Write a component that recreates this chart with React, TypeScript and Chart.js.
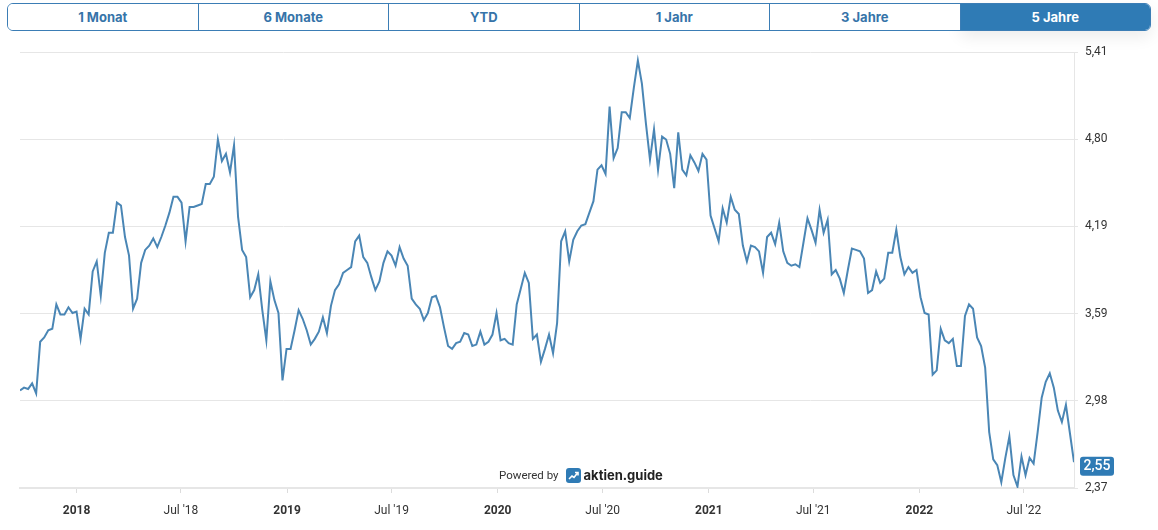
import React, { useEffect, useRef } from "react";
import { Chart, registerables } from "chart.js";
Chart.register(...registerables);

// Weekly closing prices, first week starts 2017-09-25
const START = { y: 2017, m: 8, d: 25 };
const prices2017 = [3.05, 3.07, 3.06, 3.10, 3.03, 3.39, 3.42, 3.47, 3.48, 3.65, 3.58, 3.58, 3.63, 3.59];
const prices2018 = [
  3.60, 3.41, 3.62, 3.58, 3.88, 3.95, 3.71, 4.01, 4.15, 4.15, 4.36, 4.34, 4.12, 3.99, 3.62, 3.69,
  3.94, 4.03, 4.06, 4.11, 4.05, 4.12, 4.20, 4.29, 4.40, 4.40, 4.36, 4.09, 4.33, 4.33, 4.34, 4.35,
  4.49, 4.49, 4.54, 4.80, 4.65, 4.70, 4.57, 4.76, 4.26, 4.03, 3.98, 3.70, 3.75, 3.86, 3.61, 3.40,
  3.81, 3.68, 3.59, 3.12, 3.34,
];
const prices2019 = [
  3.34, 3.47, 3.61, 3.55, 3.47, 3.37, 3.41, 3.46, 3.56, 3.45, 3.64, 3.75, 3.79, 3.87, 3.89, 3.91,
  4.09, 4.13, 3.98, 3.94, 3.84, 3.75, 3.81, 3.94, 4.02, 3.99, 3.92, 4.05, 3.97, 3.92, 3.69, 3.65,
  3.62, 3.54, 3.59, 3.70, 3.71, 3.63, 3.49, 3.36, 3.34, 3.38, 3.39, 3.45, 3.44, 3.36, 3.37, 3.46,
  3.37, 3.39, 3.44, 3.59,
];
const prices2020 = [
  3.40, 3.41, 3.38, 3.37, 3.65, 3.76, 3.87, 3.80, 3.41, 3.44, 3.25, 3.34, 3.44, 3.31, 3.52, 4.09,
  4.16, 3.95, 4.10, 4.16, 4.20, 4.21, 4.29, 4.37, 4.59, 4.62, 4.56, 5.03, 4.67, 4.74, 4.99, 4.99,
  4.95, 5.16, 5.35, 5.19, 4.91, 4.66, 4.87, 4.59, 4.82, 4.80, 4.70, 4.46, 4.85, 4.59, 4.55, 4.69,
  4.64, 4.58, 4.70, 4.66,
];
const prices2021 = [
  4.27, 4.18, 4.09, 4.32, 4.22, 4.40, 4.31, 4.28, 4.06, 3.95, 4.06, 4.05, 4.02, 3.87, 4.12, 4.15,
  4.07, 4.22, 4.02, 3.94, 3.92, 3.93, 3.91, 4.08, 4.25, 4.17, 4.08, 4.31, 4.15, 4.24, 3.86, 3.89,
  3.83, 3.73, 3.89, 4.04, 4.03, 4.02, 3.97, 3.73, 3.75, 3.88, 3.80, 3.83, 4.01, 4.01, 4.17, 3.98,
  3.86, 3.91, 3.87, 3.89,
];
const prices2022 = [
  3.70, 3.59, 3.58, 3.16, 3.19, 3.48, 3.40, 3.38, 3.41, 3.22, 3.22, 3.57, 3.65, 3.62, 3.42, 3.36,
  3.21, 2.76, 2.57, 2.53, 2.41, 2.58, 2.73, 2.46, 2.38, 2.59, 2.46, 2.58, 2.54, 2.76, 3.00, 3.11,
  3.17, 3.07, 2.91, 2.83, 2.95, 2.75, 2.55,
];

const RANGES = ["1 Monat", "6 Monate", "YTD", "1 Jahr", "3 Jahre", "5 Jahre"];
const ACTIVE_RANGE = "5 Jahre";
const Y_TICKS = [2.37, 2.978, 3.586, 4.194, 4.802, 5.41];
const X_TICK_YEARS = [2018, 2019, 2020, 2021, 2022];
const LAST_LABEL = "2,55";

const BLUE = "#2f7bb5";

export default function App() {
  const ref = useRef<HTMLCanvasElement>(null);

  useEffect(() => {
    document.body.style.margin = "0";
    const prices = [...prices2017, ...prices2018, ...prices2019, ...prices2020, ...prices2021, ...prices2022];
    const t0 = Date.UTC(START.y, START.m, START.d);
    const WEEK = 7 * 86400000;
    const points = prices.map((v, i) => ({ x: t0 + i * WEEK, y: v }));
    const xMin = points[0].x;
    const xMax = points[points.length - 1].x;
    const lastVal = prices[prices.length - 1];

    const xTicks: { value: number; major: boolean }[] = [];
    X_TICK_YEARS.forEach((yr) => {
      xTicks.push({ value: Date.UTC(yr, 0, 1), major: true });
      xTicks.push({ value: Date.UTC(yr, 6, 1), major: false });
    });

    const lastLabelPlugin = {
      id: "lastLabel",
      afterDraw(chart: any) {
        const ctx = chart.ctx;
        const y = chart.scales.y.getPixelForValue(lastVal);
        const x0 = chart.chartArea.right + 6;
        const w = 34, h = 19;
        const top = y - 5.5;
        ctx.save();
        ctx.fillStyle = BLUE;
        ctx.beginPath();
        ctx.roundRect(x0, top, w, h, 3);
        ctx.fill();
        ctx.fillStyle = "#ffffff";
        ctx.font = "500 14px Roboto";
        ctx.textAlign = "center";
        ctx.textBaseline = "middle";
        ctx.fillText(LAST_LABEL, x0 + w / 2, top + h / 2 + 0.5);
        ctx.restore();
      },
    };

    const chart = new Chart(ref.current!, {
      type: "line",
      data: {
        datasets: [
          {
            data: points,
            borderColor: "#4a86b5",
            borderWidth: 2,
            pointRadius: 0,
            tension: 0,
            fill: false,
          },
        ],
      },
      options: {
        animation: false,
        responsive: false,
        maintainAspectRatio: false,
        layout: { padding: { top: 52, left: 20, right: 0, bottom: 0 } },
        plugins: { legend: { display: false }, tooltip: { enabled: false } },
        scales: {
          x: {
            type: "linear",
            min: xMin,
            max: xMax,
            afterBuildTicks: (s: any) => {
              s.ticks = xTicks.map((t) => ({ ...t }));
            },
            afterFit: (s: any) => {
              s.height = 42;
            },
            grid: { drawOnChartArea: false, drawTicks: true, tickLength: 5, color: "#dcdcdc" },
            border: { color: "#e6e6e6", width: 2 },
            ticks: {
              autoSkip: false,
              maxRotation: 0,
              padding: 11,
              color: "#333333",
              font: (c: any) => ({
                family: "Roboto",
                size: 12,
                weight: c.tick && c.tick.major ? "bold" : "normal",
              }),
              callback: (v: any) => {
                const d = new Date(v);
                if (d.getUTCMonth() === 0) return String(d.getUTCFullYear());
                return "Jul '" + String(d.getUTCFullYear()).slice(2);
              },
            },
          },
          y: {
            position: "right",
            min: 2.37,
            max: 5.41,
            afterBuildTicks: (s: any) => {
              s.ticks = Y_TICKS.map((v) => ({ value: v }));
            },
            afterFit: (s: any) => {
              s.width = 84;
            },
            grid: { color: "#e6e6e6", tickLength: 4 },
            border: { color: "#e6e6e6" },
            ticks: {
              padding: 7,
              color: "#333333",
              font: { family: "Roboto", size: 12 },
              callback: (v: any) => Number(v).toFixed(2).replace(".", ","),
            },
          },
        },
      },
      plugins: [lastLabelPlugin],
    } as any);

    return () => chart.destroy();
  }, []);

  return (
    <div style={{ position: "relative", width: 1158, height: 530, background: "#fff", overflow: "hidden" }}>
      <canvas ref={ref} width={1158} height={530} style={{ position: "absolute", left: 0, top: 0, display: "block" }} />
      <div
        style={{
          position: "absolute",
          left: 960,
          top: 3,
          width: 191,
          height: 28,
          borderRadius: 6,
          boxShadow: "0 6px 16px rgba(0,0,0,0.08)",
        }}
      />
      <div
        style={{
          position: "absolute",
          left: 7,
          top: 3,
          width: 1144,
          height: 28,
          display: "flex",
          border: "1px solid #3b7db5",
          borderRadius: 6,
          boxSizing: "border-box",
          overflow: "hidden",
          background: "#fff",
        }}
      >
        {RANGES.map((r, i) => {
          const active = r === ACTIVE_RANGE;
          return (
            <div
              key={r}
              style={{
                flex: 1,
                borderLeft: i ? "1px solid #3b7db5" : "none",
                background: active ? BLUE : "#fff",
                color: active ? "#fff" : "#3674a9",
                fontFamily: "Inter, Roboto, sans-serif",
                fontWeight: 700,
                fontSize: 13,
                display: "flex",
                alignItems: "center",
                justifyContent: "center",
              }}
            >
              {r}
            </div>
          );
        })}
      </div>
      <div
        style={{
          position: "absolute",
          left: 499,
          top: 467,
          display: "flex",
          alignItems: "center",
        }}
      >
        <span style={{ fontFamily: "Roboto, sans-serif", fontSize: 11.5, color: "#333", marginRight: 7 }}>Powered by</span>
        <svg width="15" height="15" viewBox="0 0 15 15" style={{ marginRight: 3 }}>
          <rect x="0" y="0" width="15" height="15" rx="3" fill={BLUE} />
          <polyline points="3,11 6,8 8,9.5 11.5,5" fill="none" stroke="#fff" strokeWidth="1.6" />
          <polyline points="9,4.5 12,4.5 12,7.5" fill="none" stroke="#fff" strokeWidth="1.6" />
        </svg>
        <span style={{ fontFamily: "Inter, Roboto, sans-serif", fontSize: 13, fontWeight: 700, color: "#222" }}>aktien.guide</span>
      </div>
    </div>
  );
}
